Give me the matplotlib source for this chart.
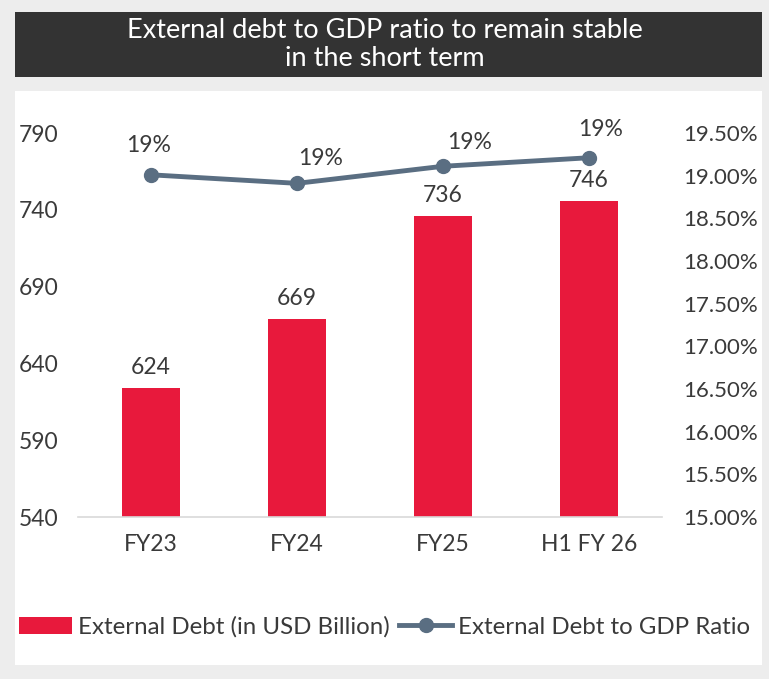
import matplotlib
matplotlib.use('Agg')
import matplotlib.pyplot as plt
from matplotlib.patches import Rectangle
from matplotlib.ticker import FuncFormatter
import numpy as np

# data
categories = ['FY23', 'FY24', 'FY25', 'H1 FY 26']
external_debt = [624, 669, 736, 746]          # USD billion
debt_to_gdp = [0.1901, 0.1891, 0.1911, 0.1921]  # ratio
left_ticks = [540, 590, 640, 690, 740, 790]
right_ticks = [0.15, 0.155, 0.16, 0.165, 0.17, 0.175, 0.18, 0.185, 0.19, 0.195]

# label offsets (points) for the ratio labels
ratio_offsets = [(-2, 21), (17, 18), (19, 17), (8, 20)]

BAR_COLOR = '#e8193c'
LINE_COLOR = '#5a6e82'
TEXT_COLOR = '#3a3a3a'

plt.rcParams['font.family'] = ['Lato', 'DejaVu Sans']

fig = plt.figure(figsize=(7.69, 6.79), dpi=100)
fig.patch.set_facecolor('#ededed')

W, H = 769, 679

def fx(px):
    return px / W

def fy(py):
    return 1 - py / H

# title box and white panel
fig.add_artist(Rectangle((fx(15), fy(77)), fx(747), (77 - 12) / H,
                         transform=fig.transFigure, facecolor='#333333',
                         edgecolor='none', zorder=0))
fig.add_artist(Rectangle((fx(15), fy(665)), fx(747), (665 - 91) / H,
                         transform=fig.transFigure, facecolor='white',
                         edgecolor='none', zorder=0))
fig.text(0.5, fy(45), 'External debt to GDP ratio to remain stable\nin the short term',
         ha='center', va='center', color='white', fontsize=19.5, linespacing=1.15)

ax = fig.add_axes([fx(78), fy(517), fx(584), (517 - 133) / H])
ax.set_facecolor('none')
x = np.arange(len(categories))

bars = ax.bar(x, external_debt, width=0.4, color=BAR_COLOR, zorder=2,
              label='External Debt (in USD Billion)')
ax.set_ylim(540, 790)
ax.set_xlim(-0.5, len(categories) - 0.5)
ax.set_yticks(left_ticks)
ax.set_xticks(x)
ax.set_xticklabels(categories)
ax.tick_params(axis='both', length=0, labelsize=16.5, colors=TEXT_COLOR)
ax.tick_params(axis='y', pad=14)
ax.tick_params(axis='x', pad=12)
for s in ['top', 'right', 'left']:
    ax.spines[s].set_visible(False)
ax.spines['bottom'].set_color('#d9d9d9')
ax.spines['bottom'].set_linewidth(1.2)

for b, v in zip(bars, external_debt):
    ax.annotate(f'{v}', (b.get_x() + b.get_width() / 2, v), xytext=(0, 7),
                textcoords='offset points', ha='center', va='bottom',
                fontsize=16.5, color=TEXT_COLOR)

ax2 = ax.twinx()
ax2.set_ylim(0.15, 0.195)
ax2.set_yticks(right_ticks)
ax2.yaxis.set_major_formatter(FuncFormatter(lambda v, p: f'{v * 100:.2f}%'))
ax2.tick_params(axis='y', length=0, labelsize=16, colors=TEXT_COLOR, pad=15)
for s in ['top', 'right', 'left', 'bottom']:
    ax2.spines[s].set_visible(False)

line, = ax2.plot(x, debt_to_gdp, color=LINE_COLOR, linewidth=3.5, marker='o',
                 markersize=10, zorder=3, label='External Debt to GDP Ratio')
for xi, v, off in zip(x, debt_to_gdp, ratio_offsets):
    ax2.annotate(f'{v * 100:.0f}%', (xi, v), xytext=off, textcoords='offset points',
                 ha='center', va='center', fontsize=16.5, color=TEXT_COLOR)

fig.legend(handles=[bars, line], loc='center', bbox_to_anchor=(0.5, fy(627)),
           ncol=2, frameon=False, fontsize=17.3, handlelength=2.2,
           columnspacing=0.4, handletextpad=0.25, labelcolor=TEXT_COLOR)

fig.savefig('out.png', dpi=100)
